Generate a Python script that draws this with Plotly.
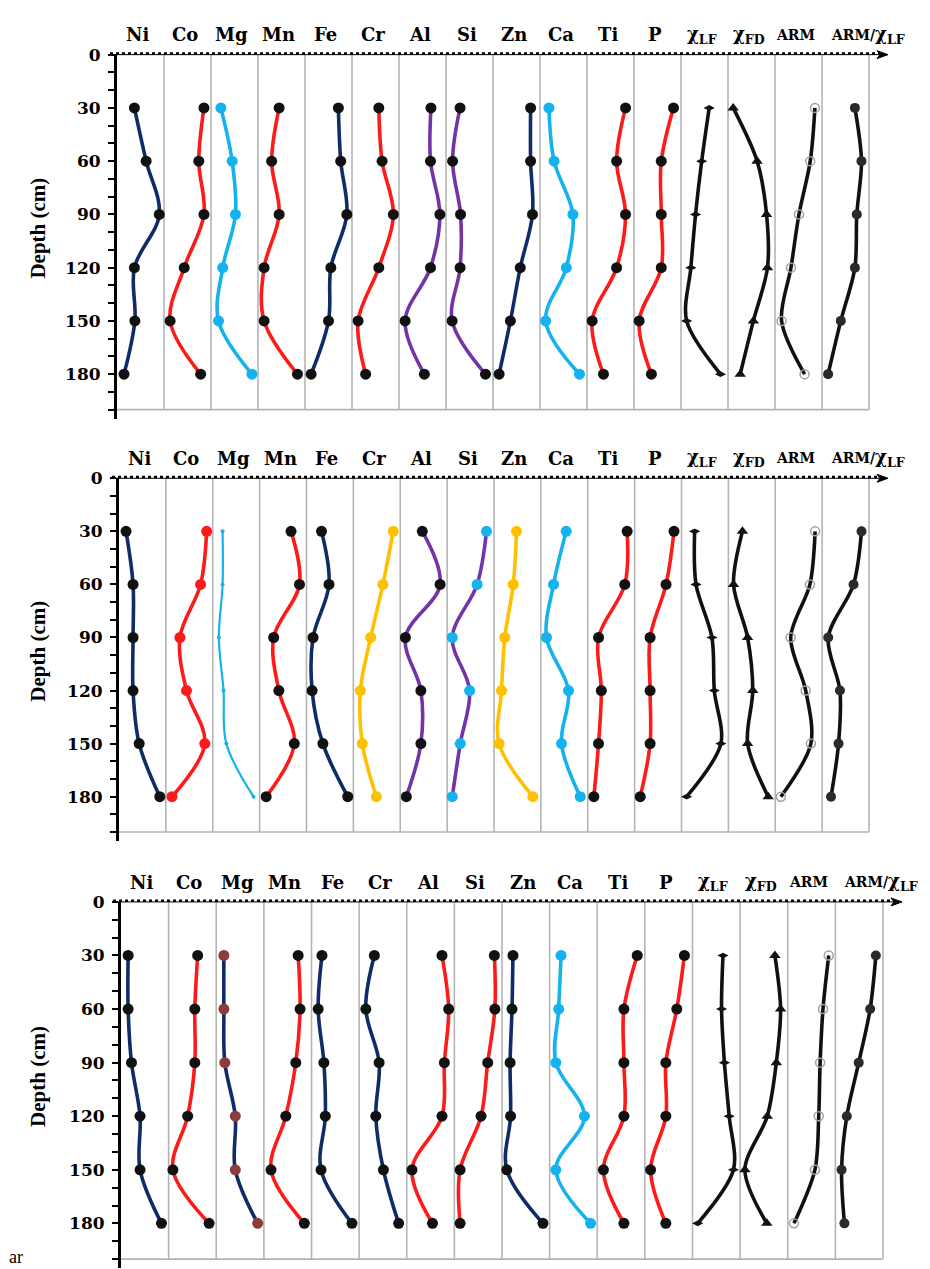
import plotly.graph_objects as go

# ---------------- data ----------------
depths = [30, 60, 90, 120, 150, 180]
variables = ["Ni", "Co", "Mg", "Mn", "Fe", "Cr", "Al", "Si", "Zn", "Ca", "Ti", "P",
             "χLF", "χFD", "ARM", "ARM/χLF"]
var_labels = ["Ni", "Co", "Mg", "Mn", "Fe", "Cr", "Al", "Si", "Zn", "Ca", "Ti", "P",
              "χ<sub>LF</sub>", "χ<sub>FD</sub>", "<span style='font-size:14px'>ARM</span>",
              "<span style='font-size:14px'>ARM/</span>χ<sub>LF</sub>"]
depth_ticks = [0, 30, 60, 90, 120, 150, 180]
depth_tick_labels = ["0", "30", "60", "90", "120", "150", "180"]

# relative value within each column (0 = left border, 1 = right border); one profile per panel
ni = [[0.37, 0.62, 0.90, 0.37, 0.38, 0.15],
      [0.15, 0.30, 0.30, 0.30, 0.43, 0.87],
      [0.15, 0.15, 0.22, 0.40, 0.40, 0.85]]
co = [[0.85, 0.74, 0.85, 0.43, 0.13, 0.78],
      [0.87, 0.74, 0.30, 0.44, 0.83, 0.13],
      [0.61, 0.55, 0.55, 0.40, 0.09, 0.85]]
mg = [[0.21, 0.45, 0.52, 0.25, 0.16, 0.87],
      [0.21, 0.21, 0.13, 0.23, 0.29, 0.87],
      [0.16, 0.16, 0.18, 0.40, 0.40, 0.87]]
mn = [[0.45, 0.29, 0.45, 0.13, 0.13, 0.84],
      [0.67, 0.85, 0.30, 0.41, 0.74, 0.14],
      [0.72, 0.76, 0.67, 0.46, 0.15, 0.85]]
fe = [[0.71, 0.76, 0.89, 0.55, 0.50, 0.13],
      [0.32, 0.48, 0.14, 0.12, 0.35, 0.88],
      [0.22, 0.14, 0.26, 0.29, 0.20, 0.85]]
cr = [[0.57, 0.64, 0.88, 0.57, 0.13, 0.29],
      [0.85, 0.63, 0.37, 0.15, 0.19, 0.49],
      [0.32, 0.14, 0.42, 0.35, 0.51, 0.83]]
al = [[0.68, 0.67, 0.87, 0.67, 0.13, 0.54],
      [0.47, 0.85, 0.11, 0.44, 0.44, 0.13],
      [0.74, 0.88, 0.79, 0.74, 0.11, 0.54]]
si = [[0.30, 0.14, 0.31, 0.30, 0.13, 0.84],
      [0.84, 0.64, 0.11, 0.48, 0.28, 0.11],
      [0.84, 0.85, 0.70, 0.56, 0.12, 0.12]]
zn = [[0.80, 0.80, 0.84, 0.58, 0.37, 0.13],
      [0.48, 0.41, 0.23, 0.16, 0.11, 0.83],
      [0.23, 0.21, 0.17, 0.18, 0.10, 0.86]]
ca = [[0.19, 0.30, 0.70, 0.56, 0.12, 0.84],
      [0.54, 0.27, 0.12, 0.59, 0.44, 0.84],
      [0.24, 0.19, 0.13, 0.73, 0.13, 0.86]]
ti = [[0.82, 0.63, 0.82, 0.63, 0.11, 0.35],
      [0.84, 0.79, 0.23, 0.29, 0.23, 0.13],
      [0.84, 0.56, 0.56, 0.56, 0.13, 0.56]]
p_ = [[0.84, 0.58, 0.58, 0.58, 0.11, 0.37],
      [0.84, 0.67, 0.33, 0.33, 0.33, 0.12],
      [0.83, 0.67, 0.44, 0.44, 0.12, 0.44]]
chi_lf = [[0.60, 0.44, 0.31, 0.21, 0.12, 0.84],
          [0.28, 0.31, 0.65, 0.70, 0.84, 0.11],
          [0.64, 0.61, 0.67, 0.77, 0.86, 0.11]]
chi_fd = [[0.11, 0.62, 0.82, 0.84, 0.54, 0.26],
          [0.30, 0.11, 0.41, 0.52, 0.41, 0.85],
          [0.73, 0.85, 0.76, 0.57, 0.10, 0.56]]
arm = [[0.85, 0.75, 0.51, 0.34, 0.14, 0.63],
       [0.85, 0.74, 0.33, 0.65, 0.76, 0.12],
       [0.86, 0.74, 0.68, 0.65, 0.57, 0.13]]
arm_chi = [[0.70, 0.84, 0.74, 0.70, 0.40, 0.13],
           [0.84, 0.67, 0.13, 0.38, 0.35, 0.19],
           [0.85, 0.73, 0.49, 0.24, 0.13, 0.19]]
series = [ni, co, mg, mn, fe, cr, al, si, zn, ca, ti, p_, chi_lf, chi_fd, arm, arm_chi]

# ---------------- styles ----------------
NAVY = "#0f2c68"
RED = "#ff1a1a"
CYAN = "#14b2ee"
PURPLE = "#7434a8"
YEL = "#ffc000"
BRN = "#8e3b3b"
K = "#111111"

line_colors = [
    [NAVY, RED, CYAN, RED, NAVY, RED, PURPLE, PURPLE, NAVY, CYAN, RED, RED, K, K, K, K],
    [NAVY, RED, CYAN, RED, NAVY, YEL, PURPLE, PURPLE, YEL, CYAN, RED, RED, K, K, K, K],
    [NAVY, RED, NAVY, RED, NAVY, NAVY, RED, RED, NAVY, CYAN, RED, RED, K, K, K, K],
]
marker_colors = [
    [K, K, CYAN, K, K, K, K, K, K, CYAN, K, K, K, K, "#a0a0a0", "#2a2a2a"],
    [K, RED, CYAN, K, K, YEL, K, CYAN, YEL, CYAN, K, K, K, K, "#a0a0a0", "#2a2a2a"],
    [K, K, BRN, K, K, K, K, K, K, CYAN, K, K, K, K, "#a0a0a0", "#2a2a2a"],
]
symbols = ["circle"] * 12 + ["diamond-wide", "triangle-up", "circle-open", "circle"]
msizes = [11] * 12 + [8, 10, 9, 10]

W, H = 930, 1269
DMAX = 205
panels = [
    dict(x0=117, x1=869, top=45, pxcm=1.789, line_start=110, arrow_end=888),
    dict(x0=119, x1=869, top=472, pxcm=1.783, line_start=112, arrow_end=888),
    dict(x0=121, x1=883, top=899, pxcm=1.80, line_start=113, arrow_end=902),
]
NCOL = len(variables)

fig = go.Figure()
layout = dict(width=W, height=H, margin=dict(l=0, r=0, t=0, b=0),
              paper_bgcolor="white", plot_bgcolor="rgba(0,0,0,0)", showlegend=False)
shapes = []
annotations = []

def xname(n):
    return "x" if n == 1 else f"x{n}"

for pi, pan in enumerate(panels):
    p = pi + 1
    yn = "y" if p == 1 else f"y{p}"
    ykey = "yaxis" if p == 1 else f"yaxis{p}"
    colw = (pan["x1"] - pan["x0"]) / NCOL
    ybot = pan["top"] + DMAX * pan["pxcm"]
    first_n = pi * NCOL + 1
    layout[ykey] = dict(
        domain=[max(0, 1 - ybot / H), 1 - pan["top"] / H],
        range=[DMAX, 0], anchor=xname(first_n), side="left",
        showline=True, linecolor="black", linewidth=3,
        ticks="outside", ticklen=6, tickwidth=2, tickcolor="black",
        tickvals=depth_ticks, ticktext=depth_tick_labels,
        minor=dict(dtick=10, tick0=0, ticks="outside", ticklen=6, tickwidth=2,
                   tickcolor="black", showgrid=False),
        tickfont=dict(family="DejaVu Serif", size=17, color="black", weight="bold"),
        ticklabelstandoff=4,
        showgrid=False, zeroline=False, fixedrange=True,
    )
    for c in range(NCOL):
        n = first_n + c
        xk = "xaxis" if n == 1 else f"xaxis{n}"
        xa = pan["x0"] + c * colw
        layout[xk] = dict(domain=[xa / W, (xa + colw) / W], range=[0, 1], anchor=yn,
                          visible=False, fixedrange=True)
        lc = line_colors[pi][c]
        mc = marker_colors[pi][c]
        thin = (pi == 1 and variables[c] == "Mg")
        is_open = symbols[c] == "circle-open"
        fig.add_trace(go.Scatter(
            x=series[c][pi], y=depths, xaxis=xname(n), yaxis=yn,
            mode="lines+markers", cliponaxis=False, name=variables[c],
            line=dict(color=lc, width=2.2 if thin else 3.6, shape="spline",
                      smoothing=0.9 if c >= 12 else 1.0),
            marker=dict(symbol=symbols[c], size=4 if thin else msizes[c], color=mc,
                        line=dict(width=1.5 if is_open else 0, color=mc)),
        ))
        # column separator (right border)
        shapes.append(dict(type="line", xref="paper", yref=yn,
                           x0=(xa + colw) / W, x1=(xa + colw) / W, y0=0, y1=200,
                           line=dict(color="#b4b4b4", width=1.6), layer="below"))
        # column label
        off = 22 if c == NCOL - 1 else -3
        annotations.append(dict(text=var_labels[c], xref="paper", yref="paper",
                                x=(xa + colw / 2 + off) / W, y=1 - (pan["top"] - 20) / H,
                                showarrow=False, xanchor="center", yanchor="middle",
                                font=dict(family="DejaVu Serif", size=18, color="black",
                                          weight="bold")))
    # bottom border
    shapes.append(dict(type="line", xref="paper", yref=yn, x0=pan["x0"] / W, x1=pan["x1"] / W,
                       y0=200, y1=200, line=dict(color="#b4b4b4", width=1.6), layer="below"))
    # top (dotted) axis with arrow head
    ytop = 1 - pan["top"] / H
    xs, xe = pan["line_start"] / W, (pan["arrow_end"] - 8) / W
    shapes.append(dict(type="line", xref="paper", yref="paper", x0=xs, x1=xe, y0=ytop, y1=ytop,
                       line=dict(color="black", width=1)))
    shapes.append(dict(type="line", xref="paper", yref="paper", x0=xs, x1=xe,
                       y0=ytop + 1.2 / H, y1=ytop + 1.2 / H,
                       line=dict(color="black", width=2.5, dash="dot")))
    ax_ = pan["arrow_end"]
    shapes.append(dict(type="path", xref="paper", yref="paper",
                       path=(f"M {ax_ / W},{ytop} L {(ax_ - 11) / W},{ytop + 4 / H} "
                             f"L {(ax_ - 8) / W},{ytop} L {(ax_ - 11) / W},{ytop - 4 / H} Z"),
                       fillcolor="black", line=dict(color="black", width=1)))
    # depth axis title
    annotations.append(dict(text="Depth (cm)", xref="paper", yref=yn, x=38 / W, y=98,
                            textangle=-90, showarrow=False, xanchor="center", yanchor="middle",
                            font=dict(family="Liberation Serif", size=21, color="black",
                                      weight="bold")))

annotations.append(dict(text="ar", xref="paper", yref="paper", x=7 / W, y=0,
                        showarrow=False, xanchor="left", yanchor="bottom",
                        font=dict(family="Liberation Serif", size=18, color="black")))

layout["shapes"] = shapes
layout["annotations"] = annotations
fig.update_layout(**layout)
fig.write_html("out.html", config={"displayModeBar": False},
               post_script="document.body.style.margin='0px';")
